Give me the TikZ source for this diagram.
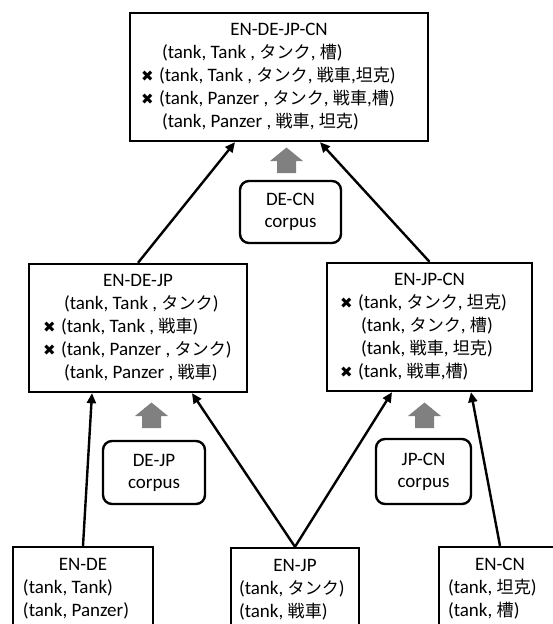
\documentclass[tikz,border=0pt]{standalone}
\usepackage{fontspec}
\setmainfont{Carlito}
\newfontfamily\jpfont[Scale=0.9]{Noto Sans CJK JP}
\newfontfamily\symfont{DejaVu Sans}
\usetikzlibrary{arrows.meta, positioning}
\colorlet{arrowgray}{black!50}
\newcommand{\jp}[1]{{\jpfont #1}}
\newcommand{\no}{\makebox[18pt][l]{\symfont\fontsize{15}{15}\selectfont ✖}}
\newcommand{\ok}{\hspace*{21pt}}
\newcommand{\dict}[3]{\begin{tabular}{@{}p{#1}@{}}\multicolumn{1}{@{}c@{}}{#2}\\#3\end{tabular}}

\begin{document}
\begin{tikzpicture}[x=1pt,y=1pt,line width=2.4pt,>={Triangle[length=10pt,width=9pt]}]
    \tikzstyle{every node}=[font=\fontsize{19}{23}\selectfont]
    \tikzstyle{dictbox}=[draw, rectangle, inner sep=0pt, minimum height=128pt]
    \tikzstyle{pairbox}=[dictbox, minimum height=83pt]
    \tikzstyle{corpus}=[draw, rounded corners=9pt, align=center, inner sep=0pt,
        minimum width=100pt, minimum height=63pt, font=\fontsize{19}{22}\selectfont]
    \tikzstyle{link}=[->]
    \tikzset{uparrow/.pic={
        \fill[arrowgray] (-9.5,0) -- (-9.5,12) -- (-16.5,12) -- (0,25.5)
            -- (16.5,12) -- (9.5,12) -- (9.5,0) -- cycle;}}

    \clip (0,0) rectangle (553,-624);

    % four languages
    \node[dictbox, minimum width=298pt] (Q) at (279,-77)
        {\dict{276pt}{EN-DE-JP-CN}{\ok(tank, Tank , \jp{タンク}, \jp{槽})\\
         \no(tank, Tank , \jp{タンク}, \jp{戦車},\jp{坦克})\\
         \no(tank, Panzer , \jp{タンク}, \jp{戦車},\jp{槽})\\
         \ok(tank, Panzer , \jp{戦車}, \jp{坦克})}};

    % three languages
    \node[dictbox, minimum width=218pt] (T-DEJP) at (138,-328)
        {\dict{190pt}{EN-DE-JP}{\ok(tank, Tank , \jp{タンク})\\
         \no(tank, Tank , \jp{戦車})\\
         \no(tank, Panzer , \jp{タンク})\\
         \ok(tank, Panzer , \jp{戦車})}};
    \node[dictbox, minimum width=205pt] (T-JPCN) at (429.5,-327)
        {\dict{179pt}{EN-JP-CN}{\no(tank, \jp{タンク}, \jp{坦克})\\
         \ok(tank, \jp{タンク}, \jp{槽})\\
         \ok(tank, \jp{戦車}, \jp{坦克})\\
         \no(tank, \jp{戦車},\jp{槽})}};

    % two languages
    \node[pairbox, minimum width=140pt] (P-DE) at (83,-588.5)
        {\dict{120pt}{EN-DE}{(tank, Tank)\\(tank, Panzer)}};
    \node[pairbox, minimum width=128pt] (P-JP) at (295,-589.5)
        {\dict{112pt}{EN-JP}{(tank, \jp{タンク})\\(tank, \jp{戦車})}};
    \node[pairbox, minimum width=122pt] (P-CN) at (500,-588.5)
        {\dict{104pt}{EN-CN}{(tank, \jp{坦克})\\(tank, \jp{槽})}};

    % corpora
    \node[corpus, minimum width=102pt] (C-DEJP) at (154,-472.5) {DE-JP\\corpus};
    \node[corpus, minimum width=95pt, minimum height=65pt] (C-JPCN) at (423.5,-471.5) {JP-CN\\corpus};
    \node[corpus, minimum width=101pt, minimum height=62pt] (C-DECN) at (290.5,-212) {DE-CN\\corpus};

    \pic at (151.5,-428) {uparrow};
    \pic at (424.5,-428) {uparrow};
    \pic at (286.5,-173) {uparrow};

    % merge dictionaries
    \foreach \src/\dst/\off in {P-DE/T-DEJP/-46, P-JP/T-DEJP/54, P-JP/T-JPCN/-37.5,
                               P-CN/T-JPCN/41.5, T-DEJP/Q/-44, T-JPCN/Q/41}
        \draw[link] (\src.north) -- ([xshift=\off pt]\dst.south);
\end{tikzpicture}
\end{document}
